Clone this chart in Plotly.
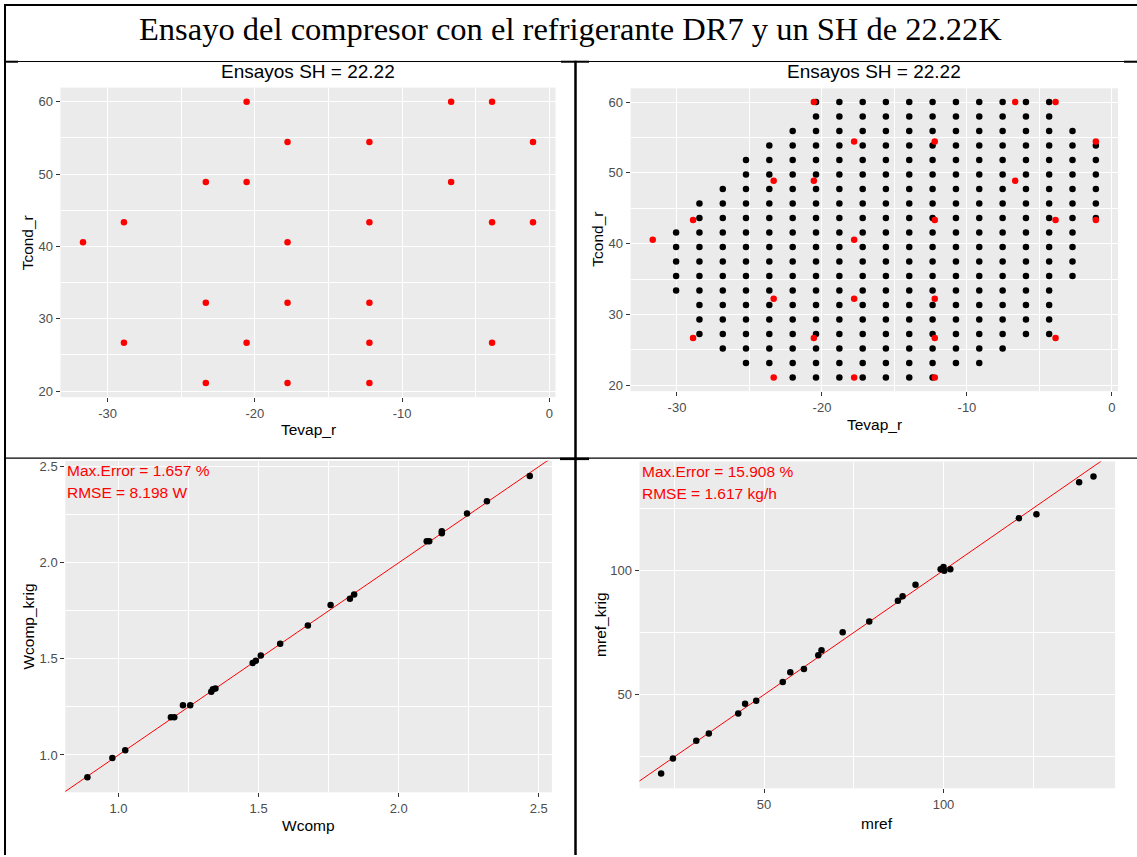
import plotly.graph_objects as go

W, H = 1137, 857

header_text = "Ensayo del compresor con el refrigerante DR7 y un SH de 22.22K"
panel_title = "Ensayos SH = 22.22"

# measured test conditions (degC)
tevap_ens = [-31.67, -28.89, -28.89, -23.33, -23.33, -23.33, -20.56, -20.56, -20.56,
             -17.78, -17.78, -17.78, -17.78, -12.22, -12.22, -12.22, -12.22, -12.22,
             -6.67, -6.67, -3.89, -3.89, -3.89, -1.11, -1.11]
tcond_ens = [40.56, 43.33, 26.67, 48.89, 32.22, 21.11, 60.00, 48.89, 26.67,
             54.44, 40.56, 32.22, 21.11, 54.44, 43.33, 32.22, 26.67, 21.11,
             60.00, 48.89, 60.00, 43.33, 26.67, 54.44, 43.33]

# kriging prediction grid: evaporating temperature columns, condensing temperature rows
tevap_grid = [-30.06, -28.45, -26.84, -25.24, -23.63, -22.02, -20.41, -18.80, -17.19, -15.59,
              -13.98, -12.37, -10.76, -9.15, -7.54, -5.93, -4.33, -2.72, -1.11]
tcond_grid = [60.00, 57.95, 55.91, 53.86, 51.81, 49.77, 47.72, 45.67, 43.63, 41.58,
              39.53, 37.48, 35.44, 33.39, 31.34, 29.30, 27.25, 25.20, 23.16, 21.11]
# first / last row (index into tcond_grid) present in each column
grid_row_first = [9, 7, 6, 4, 3, 2, 0, 0, 0, 0, 0, 0, 0, 0, 0, 0, 0, 2, 3]
grid_row_last = [13, 16, 17, 18, 18, 19, 19, 19, 19, 19, 19, 19, 18, 18, 17, 16, 16, 12, 8]

# compressor power (kW): measured vs kriging
wcomp = [0.889, 0.978, 1.024, 1.187, 1.199, 1.230, 1.256, 1.331, 1.337, 1.346, 1.479, 1.490,
         1.508, 1.577, 1.676, 1.757, 1.826, 1.841, 2.100, 2.109, 2.154, 2.154, 2.244, 2.315, 2.468]
wcomp_krig = [0.884, 0.984, 1.024, 1.196, 1.196, 1.258, 1.258, 1.329, 1.342, 1.346, 1.479, 1.490,
              1.517, 1.579, 1.673, 1.780, 1.813, 1.835, 2.112, 2.112, 2.154, 2.164, 2.257, 2.320, 2.452]

# refrigerant mass flow (kg/h): measured vs kriging
mref = [21.3, 24.6, 31.1, 34.6, 42.8, 44.7, 47.8, 55.2, 57.3, 61.1, 65.1, 66.0, 71.9,
        79.3, 87.3, 88.6, 92.2, 99.2, 100.0, 100.2, 101.9, 121.0, 125.9, 137.8, 141.8]
mref_krig = [18.3, 24.3, 31.5, 34.4, 42.4, 46.3, 47.6, 55.1, 59.0, 60.3, 65.9, 67.9, 75.1,
             79.4, 87.8, 89.6, 94.2, 100.5, 101.4, 99.8, 100.4, 121.0, 122.6, 135.4, 137.8]

w_labels = ["Max.Error = 1.657 %", "RMSE = 8.198 W"]
m_labels = ["Max.Error = 15.908 %", "RMSE = 1.617 kg/h"]

# tick positions / labels
t_x_ticks = [-30, -20, -10, 0]
t_x_text = ["-30", "-20", "-10", "0"]
t_x_minor = [-25, -15, -5]
t_y_ticks = [20, 30, 40, 50, 60]
t_y_text = ["20", "30", "40", "50", "60"]
t_y_minor = [25, 35, 45, 55]
w_ticks = [1.0, 1.5, 2.0, 2.5]
w_text = ["1.0", "1.5", "2.0", "2.5"]
w_minor = [1.25, 1.75, 2.25]
m_ticks = [50, 100]
m_text = ["50", "100"]
m_minor = [25, 75, 125]

SANS = "Liberation Sans, Arial, sans-serif"
SERIF = "Liberation Serif, Times New Roman, serif"


def px_x(x):
    return x / W


def px_y(y):
    return 1 - y / H


def expand(vals, f=0.05):
    lo, hi = min(vals), max(vals)
    pad = (hi - lo) * f
    return [lo - pad, hi + pad]


# pixel boxes of the four panels (left, right, top, bottom)
boxes = {
    1: (60.5, 555.5, 86.0, 397.0),
    2: (630.6, 1118.0, 86.7, 391.0),
    3: (65.3, 551.9, 461.0, 794.0),
    4: (639.5, 1115.1, 461.7, 790.0),
}

# expand the grid into point lists
gx, gy = [], []
for i, tx in enumerate(tevap_grid):
    for j in range(grid_row_first[i], grid_row_last[i] + 1):
        gx.append(tx)
        gy.append(tcond_grid[j])

fig = go.Figure()

mk = 6.5
# panel 1: test points
fig.add_trace(go.Scatter(x=tevap_ens, y=tcond_ens, mode="markers", xaxis="x", yaxis="y",
                         marker=dict(color="#FF0000", size=mk), showlegend=False))
# panel 2: prediction grid + test points
fig.add_trace(go.Scatter(x=gx, y=gy, mode="markers", xaxis="x2", yaxis="y2",
                         marker=dict(color="#000000", size=mk), showlegend=False))
fig.add_trace(go.Scatter(x=tevap_ens, y=tcond_ens, mode="markers", xaxis="x2", yaxis="y2",
                         marker=dict(color="#FF0000", size=mk), showlegend=False))

rng_w_x, rng_w_y = expand(wcomp), expand(wcomp_krig)
rng_m_x, rng_m_y = expand(mref), expand(mref_krig)

# panel 3: identity line + power comparison
lo = min(rng_w_x[0], rng_w_y[0]) - 1
hi = max(rng_w_x[1], rng_w_y[1]) + 1
fig.add_trace(go.Scatter(x=[lo, hi], y=[lo, hi], mode="lines", xaxis="x3", yaxis="y3",
                         line=dict(color="#FF0000", width=1), showlegend=False))
fig.add_trace(go.Scatter(x=wcomp, y=wcomp_krig, mode="markers", xaxis="x3", yaxis="y3",
                         marker=dict(color="#000000", size=mk), showlegend=False))

# panel 4: identity line + mass flow comparison
lo = min(rng_m_x[0], rng_m_y[0]) - 10
hi = max(rng_m_x[1], rng_m_y[1]) + 10
fig.add_trace(go.Scatter(x=[lo, hi], y=[lo, hi], mode="lines", xaxis="x4", yaxis="y4",
                         line=dict(color="#FF0000", width=1), showlegend=False))
fig.add_trace(go.Scatter(x=mref, y=mref_krig, mode="markers", xaxis="x4", yaxis="y4",
                         marker=dict(color="#000000", size=mk), showlegend=False))


def axis_cfg(dom, rng, tickvals, ticktext, minorvals, anchor):
    return dict(domain=dom, range=rng, anchor=anchor, tickmode="array",
                tickvals=tickvals, ticktext=ticktext,
                ticks="outside", ticklen=4, tickwidth=1.1, tickcolor="#333333",
                tickfont=dict(family=SANS, size=13, color="#4D4D4D"),
                showgrid=True, gridcolor="#FFFFFF", gridwidth=1.3,
                minor=dict(tickmode="array", tickvals=minorvals, showgrid=True,
                           gridcolor="#FFFFFF", gridwidth=0.6, ticks=""),
                zeroline=False, showline=False, fixedrange=True)


def dom_x(k):
    l, r, t, b = boxes[k]
    return [px_x(l), px_x(r)]


def dom_y(k):
    l, r, t, b = boxes[k]
    return [px_y(b), px_y(t)]


rng_t_x = expand(tevap_ens + gx)
rng_t_y = expand(tcond_ens + gy)

layout_axes = {
    "xaxis": axis_cfg(dom_x(1), expand(tevap_ens), t_x_ticks, t_x_text, t_x_minor, "y"),
    "yaxis": axis_cfg(dom_y(1), expand(tcond_ens), t_y_ticks, t_y_text, t_y_minor, "x"),
    "xaxis2": axis_cfg(dom_x(2), rng_t_x, t_x_ticks, t_x_text, t_x_minor, "y2"),
    "yaxis2": axis_cfg(dom_y(2), rng_t_y, t_y_ticks, t_y_text, t_y_minor, "x2"),
    "xaxis3": axis_cfg(dom_x(3), rng_w_x, w_ticks, w_text, w_minor, "y3"),
    "yaxis3": axis_cfg(dom_y(3), rng_w_y, w_ticks, w_text, w_minor, "x3"),
    "xaxis4": axis_cfg(dom_x(4), rng_m_x, m_ticks, m_text, m_minor, "y4"),
    "yaxis4": axis_cfg(dom_y(4), rng_m_y, m_ticks, m_text, m_minor, "x4"),
}

ann = []


def text_at(x, y, s, size, color="#000000", family=SANS, angle=0, xanchor="center"):
    ann.append(dict(x=px_x(x), y=px_y(y), xref="paper", yref="paper", text=s,
                    showarrow=False, xanchor=xanchor, yanchor="middle", textangle=angle,
                    font=dict(family=family, size=size, color=color)))


# table header
text_at(570, 27, header_text, 32.5, family=SERIF)

# panel titles
for k in (1, 2):
    l, r, t, b = boxes[k]
    text_at((l + r) / 2, 70, panel_title, 19)

# axis titles
text_at((boxes[1][0] + boxes[1][1]) / 2, 430, "Tevap_r", 15.5)
text_at(27, (boxes[1][2] + boxes[1][3]) / 2, "Tcond_r", 15.5, angle=-90)
text_at((boxes[2][0] + boxes[2][1]) / 2, 424, "Tevap_r", 15.5)
text_at(598, (boxes[2][2] + boxes[2][3]) / 2, "Tcond_r", 15.5, angle=-90)
text_at((boxes[3][0] + boxes[3][1]) / 2, 827, "Wcomp", 15.5)
text_at(29, (boxes[3][2] + boxes[3][3]) / 2, "Wcomp_krig", 15.5, angle=-90)
text_at((boxes[4][0] + boxes[4][1]) / 2, 825, "mref", 15.5)
text_at(601, (boxes[4][2] + boxes[4][3]) / 2, "mref_krig", 15.5, angle=-90)

# error summaries
text_at(boxes[3][0], 471, w_labels[0], 15.5, color="#FF0000", xanchor="left")
text_at(boxes[3][0], 493, w_labels[1], 15.5, color="#FF0000", xanchor="left")
text_at(boxes[4][0], 471.5, m_labels[0], 15.5, color="#FF0000", xanchor="left")
text_at(boxes[4][0], 493.5, m_labels[1], 15.5, color="#FF0000", xanchor="left")

# table rules
shapes = []


def rule(x0, y0, x1, y1, w):
    shapes.append(dict(type="line", xref="paper", yref="paper",
                       x0=px_x(x0), y0=px_y(y0), x1=px_x(x1), y1=px_y(y1),
                       line=dict(color="#000000", width=w)))


rule(4, 3, W, 3, 2)            # top border
rule(5, 2, 5, H, 2)            # left border
rule(4, 59.8, W, 59.8, 1)      # below header
rule(4, 60, 18, 60, 2)
rule(561, 60, 589, 60, 2)
rule(1124, 60, W, 60, 2)
rule(575.5, 59, 575.5, H, 2.5)  # centre divider
rule(4, 458.3, W, 458.3, 1.2)  # between rows
rule(560, 459, 589, 459, 2.5)

fig.update_layout(
    width=W, height=H, autosize=False,
    margin=dict(l=0, r=0, t=0, b=0, pad=0),
    paper_bgcolor="#FFFFFF", plot_bgcolor="#EBEBEB",
    showlegend=False, annotations=ann, shapes=shapes,
    **layout_axes,
)

fig.write_html("out.html")
